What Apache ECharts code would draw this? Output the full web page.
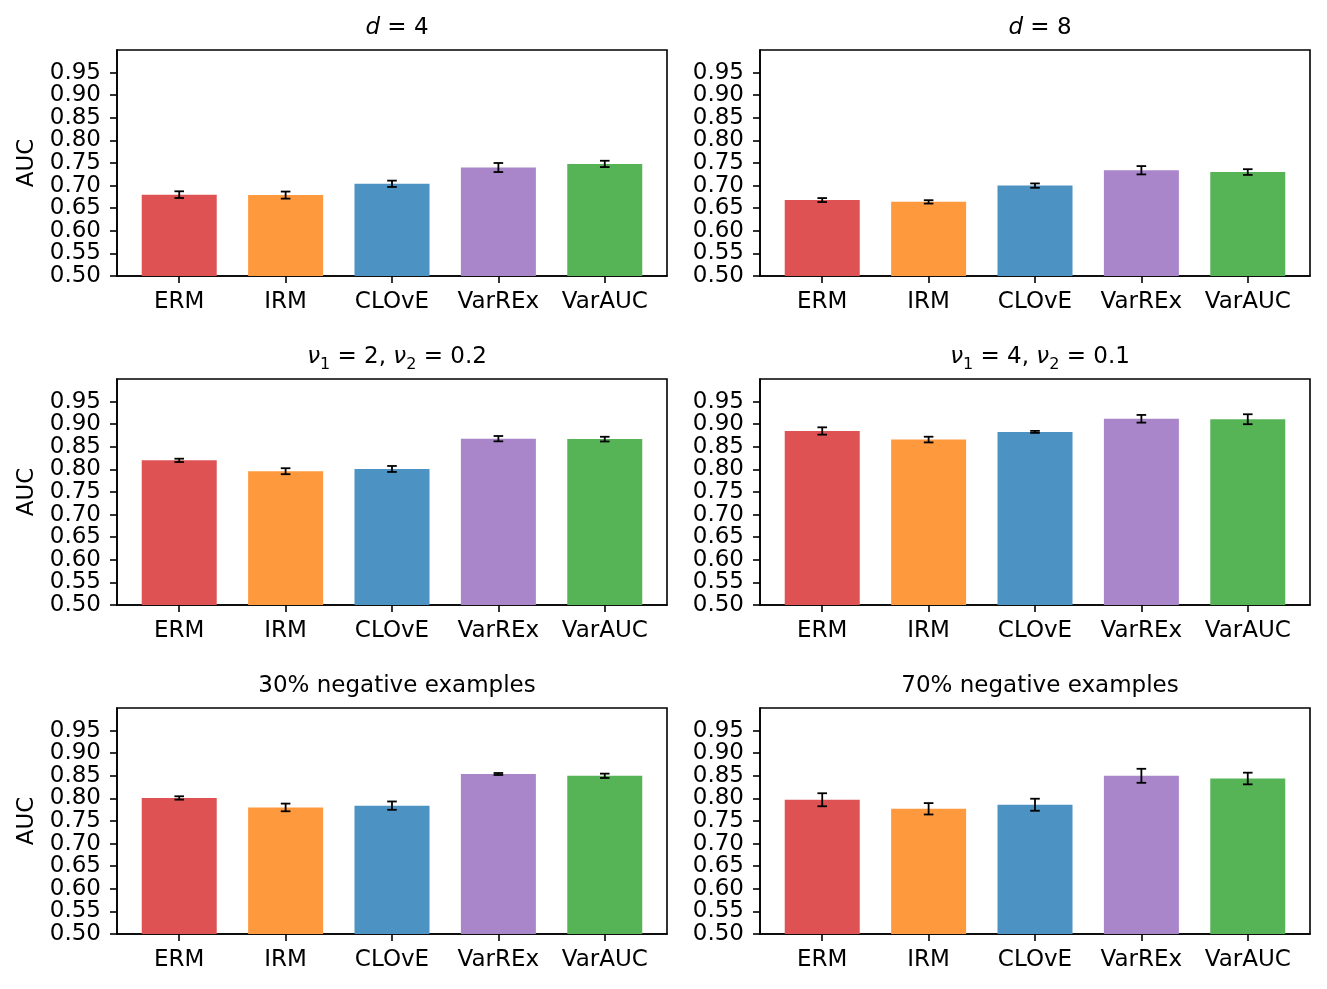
<!DOCTYPE html>
<html>
<head>
<meta charset="utf-8">
<script src="https://cdn.jsdelivr.net/npm/echarts@6/dist/echarts.min.js"></script>
<style>
html,body{margin:0;padding:0;background:#fff;}
#chart{width:1327px;height:989px;}
</style>
</head>
<body>
<div id="chart"></div>
<script>
const categories = ['ERM', 'IRM', 'CLOvE', 'VarREx', 'VarAUC'];
const yTickValues = [0.50, 0.55, 0.60, 0.65, 0.70, 0.75, 0.80, 0.85, 0.90, 0.95];
const barColors = ['#de5253', '#ff993e', '#4c92c3', '#a985ca', '#56b356'];

const titleD4 = '{i|d} = 4';
const titleD8 = '{i|d} = 8';
const titleNu1 = '{i|ν}{s|1} = 2, {i|ν}{s|2} = 0.2';
const titleNu2 = '{i|ν}{s|1} = 4, {i|ν}{s|2} = 0.1';
const titleNeg30 = '30% negative examples';
const titleNeg70 = '70% negative examples';

const aucD4 = [0.680, 0.679, 0.704, 0.740, 0.748];
const errD4 = [0.0074, 0.0078, 0.0070, 0.0100, 0.0070];
const aucD8 = [0.668, 0.664, 0.700, 0.734, 0.730];
const errD8 = [0.0044, 0.0037, 0.0048, 0.0092, 0.0063];
const aucNu1 = [0.820, 0.796, 0.801, 0.868, 0.867];
const errNu1 = [0.0037, 0.0066, 0.0066, 0.0059, 0.0052];
const aucNu2 = [0.885, 0.866, 0.883, 0.912, 0.911];
const errNu2 = [0.0081, 0.0063, 0.0022, 0.0085, 0.0110];
const aucNeg30 = [0.801, 0.780, 0.784, 0.854, 0.850];
const errNeg30 = [0.0037, 0.0085, 0.0092, 0.0022, 0.0048];
const aucNeg70 = [0.797, 0.777, 0.786, 0.850, 0.844];
const errNeg70 = [0.0144, 0.0126, 0.0133, 0.0155, 0.0129];

const panels = [
  {title: titleD4, auc: aucD4, err: errD4},
  {title: titleD8, auc: aucD8, err: errD8},
  {title: titleNu1, auc: aucNu1, err: errNu1},
  {title: titleNu2, auc: aucNu2, err: errNu2},
  {title: titleNeg30, auc: aucNeg30, err: errNeg30},
  {title: titleNeg70, auc: aucNeg70, err: errNeg70}
];

const FONT = 'DejaVu Sans';
const FS = 23;
const lefts = [117, 760];
const tops = [50, 379, 708];
const W = 550, H = 226;

const evenTicks = yTickValues.filter((v, i) => i % 2 === 0);
const oddTicks = yTickValues.filter((v, i) => i % 2 === 1);

function makeY(k, ticks, main, col) {
  return {
    type: 'value', gridIndex: k, min: 0.5, max: 1.0, position: 'left',
    name: (main && col === 0) ? 'AUC' : '', nameLocation: 'middle', nameGap: 78,
    nameTextStyle: {fontFamily: FONT, fontSize: FS, color: '#000'},
    splitLine: {show: false},
    axisLine: {show: main, onZero: false, lineStyle: {color: '#000', width: 1.6}},
    axisTick: {show: true, length: 7, lineStyle: {color: '#000', width: 1.6}, customValues: ticks},
    axisLabel: {show: true, margin: 16, fontFamily: FONT, fontSize: FS, color: '#000',
      padding: [4, 0, 0, 0],
      hideOverlap: false, showMinLabel: true, showMaxLabel: true,
      customValues: ticks, formatter: v => v.toFixed(2)}
  };
}

const grids = [], xAxes = [], yAxes = [], series = [], titles = [];
panels.forEach((p, k) => {
  const col = k % 2, row = Math.floor(k / 2);
  grids.push({left: lefts[col], top: tops[row], width: W, height: H,
    show: true, borderColor: '#000', borderWidth: 1.6, backgroundColor: 'transparent', containLabel: false});
  titles.push({
    text: p.title, left: lefts[col] + W / 2, top: tops[row] - 38, textAlign: 'center',
    textStyle: {fontFamily: FONT, fontSize: FS, fontWeight: 'normal', color: '#000',
      rich: {
        i: {fontFamily: FONT, fontSize: FS, fontStyle: 'italic', color: '#000'},
        s: {fontFamily: FONT, fontSize: 16, color: '#000', verticalAlign: 'bottom', padding: [0, 0, -4, 0]}
      }}
  });
  xAxes.push({
    type: 'value', gridIndex: k, min: -0.585, max: 4.585,
    splitLine: {show: false},
    axisLine: {show: true, onZero: false, lineStyle: {color: '#000', width: 1.6}},
    axisTick: {show: true, length: 7, lineStyle: {color: '#000', width: 1.6}, customValues: [0, 1, 2, 3, 4]},
    axisLabel: {show: true, margin: 15, fontFamily: FONT, fontSize: FS, color: '#000', hideOverlap: false,
      customValues: [0, 1, 2, 3, 4], formatter: v => categories[Math.round(v)]}
  });
  yAxes.push(makeY(k, evenTicks, true, col));
  yAxes.push(makeY(k, oddTicks, false, col));
  series.push({
    type: 'bar', xAxisIndex: k, yAxisIndex: 2 * k, barWidth: 75, silent: true,
    data: p.auc.map((v, i) => ({value: [i, v], itemStyle: {color: barColors[i]}})),
    animation: false
  });
  series.push({
    type: 'custom', xAxisIndex: k, yAxisIndex: 2 * k, silent: true, z: 10, animation: false,
    data: p.auc.map((v, i) => [i, v, p.err[i]]),
    encode: {x: 0, y: 1},
    renderItem: (params, api) => {
      const x = api.value(0), v = api.value(1), e = api.value(2);
      const t = api.coord([x, v + e]);
      const b = api.coord([x, v - e]);
      const cw = 4.8;
      const st = {stroke: '#000', lineWidth: 1.8};
      return {type: 'group', children: [
        {type: 'line', shape: {x1: t[0], y1: t[1], x2: b[0], y2: b[1]}, style: st},
        {type: 'line', shape: {x1: t[0] - cw, y1: t[1], x2: t[0] + cw, y2: t[1]}, style: st},
        {type: 'line', shape: {x1: b[0] - cw, y1: b[1], x2: b[0] + cw, y2: b[1]}, style: st}
      ]};
    }
  });
});

const chart = echarts.init(document.getElementById('chart'), null, {renderer: 'canvas'});
chart.setOption({
  backgroundColor: '#fff',
  animation: false,
  title: titles,
  grid: grids,
  xAxis: xAxes,
  yAxis: yAxes,
  series: series
});
</script>
</body>
</html>
